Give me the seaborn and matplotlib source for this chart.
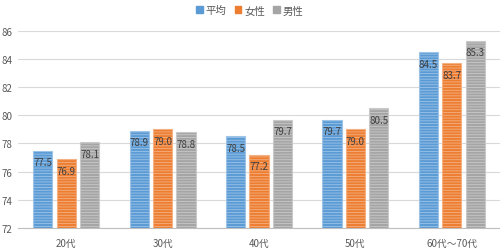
import matplotlib
matplotlib.use("Agg")
import matplotlib.pyplot as plt
import seaborn as sns
import pandas as pd
from matplotlib.patches import Patch

categories = ["20代", "30代", "40代", "50代", "60代〜70代"]
series_names = ["平均", "女性", "男性"]
avg = [77.5, 78.9, 78.5, 79.7, 84.5]
female = [76.9, 79.0, 77.2, 79.0, 83.7]
male = [78.1, 78.8, 79.7, 80.5, 85.3]
yticks = [72, 74, 76, 78, 80, 82, 84, 86]

colors = ["#5B9BD5", "#ED7D31", "#A5A5A5"]
hatch_colors = ["#9DC3E6", "#F4B183", "#C9C9C9"]

rows = []
for name, vals in zip(series_names, [avg, female, male]):
    for c, v in zip(categories, vals):
        rows.append({"cat": c, "series": name, "value": v})
df = pd.DataFrame(rows)

sns.set_theme(style="white")
plt.rcParams['font.family'] = ['Noto Sans CJK JP', 'DejaVu Sans']
plt.rcParams['hatch.linewidth'] = 0.6

fig = plt.figure(figsize=(5.0, 2.53), dpi=100)
ax = fig.add_axes([0.036, 0.095, 0.964, 0.779])

sns.barplot(data=df, x="cat", y="value", hue="series", palette=colors,
            order=categories, hue_order=series_names, ax=ax,
            width=0.73, gap=0.18, legend=False, errorbar=None)

for i, cont in enumerate(ax.containers):
    for p in cont:
        p.set_facecolor(colors[i])
        p.set_edgecolor(hatch_colors[i])
        p.set_linewidth(0.8)
        p.set_hatch("------")
    ax.bar_label(cont, fmt="%.1f", padding=-12, fontsize=7, color="#404040")

ax.set_ylim(72, 86)
ax.set_yticks(yticks)
ax.set_yticklabels([str(t) for t in yticks])
ax.set_xlim(-0.5, len(categories) - 0.5)
ax.grid(axis="y", color="#D9D9D9", linewidth=0.8)
ax.set_axisbelow(True)
for s in ["top", "right", "left"]:
    ax.spines[s].set_visible(False)
ax.spines["bottom"].set_color("#BFBFBF")
ax.spines["bottom"].set_linewidth(0.8)
ax.tick_params(axis="both", length=0, labelsize=7, colors="#595959")
ax.tick_params(axis="x", pad=7)
ax.tick_params(axis="y", pad=4)
ax.set_xlabel("")
ax.set_ylabel("")

handles = [Patch(facecolor=c, edgecolor=c) for c in colors]
fig.legend(handles, series_names, loc="center", bbox_to_anchor=(0.5, 0.955),
           ncol=3, frameon=False, fontsize=7.5, handlelength=0.6, handleheight=0.6,
           handletextpad=0.3, columnspacing=0.8, labelcolor="#595959")

fig.savefig("out.png", dpi=100)
